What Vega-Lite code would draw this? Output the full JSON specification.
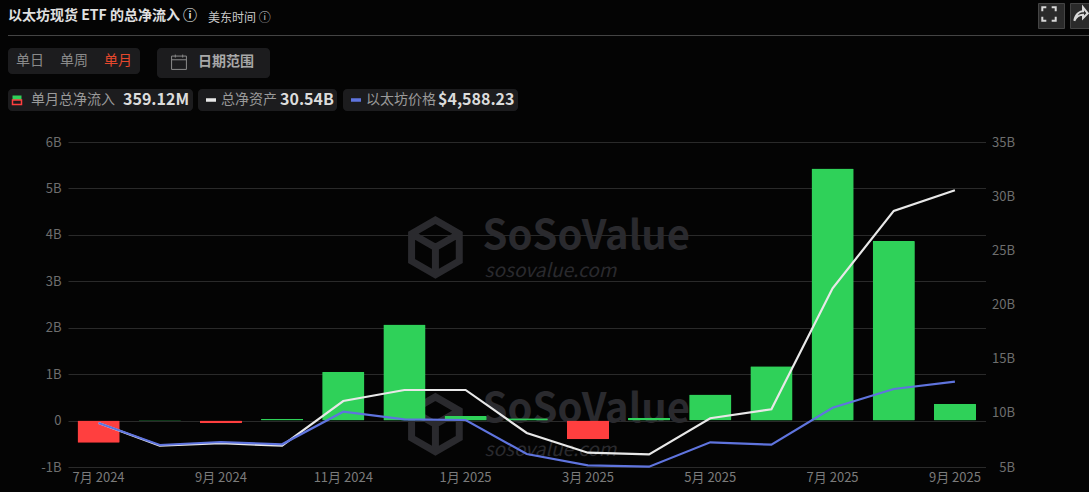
{"$schema":"https://vega.github.io/schema/vega-lite/v6.json","width":917.5,"height":325,"autosize":"none","padding":{"left":68,"top":142,"right":103.5,"bottom":25},"background":"#040404",
"title":{"text":"以太坊现货 ETF 的总净流入 ⓘ","anchor":"start","frame":"group","dx":-60,"offset":-20,"fontSize":14,"fontWeight":"bold","color":"#e0e0e0","font":"Noto Sans CJK SC"},
"config":{"font":"Noto Sans CJK SC","view":{"stroke":null},"legend":{"orient":"none","symbolOpacity":1,"labelFont":"Noto Sans CJK SC","titleFont":"Noto Sans CJK SC"}},
"data":{"values":[
{"month":"7月 2024","flow":-0.48,"dir":"流出","assets":9.06,"price":3228},
{"month":"8月 2024","flow":0.01,"dir":"流入","assets":6.97,"price":2504},
{"month":"9月 2024","flow":-0.06,"dir":"流出","assets":7.19,"price":2602},
{"month":"10月 2024","flow":0.04,"dir":"流入","assets":6.97,"price":2527},
{"month":"11月 2024","flow":1.05,"dir":"流入","assets":11.09,"price":3599},
{"month":"12月 2024","flow":2.07,"dir":"流入","assets":12.11,"price":3349},
{"month":"1月 2025","flow":0.1,"dir":"流入","assets":12.11,"price":3326},
{"month":"2月 2025","flow":0.05,"dir":"流入","assets":8.14,"price":2208},
{"month":"3月 2025","flow":-0.4,"dir":"流出","assets":6.32,"price":1836},
{"month":"4月 2025","flow":0.06,"dir":"流入","assets":6.17,"price":1790},
{"month":"5月 2025","flow":0.56,"dir":"流入","assets":9.5,"price":2593},
{"month":"6月 2025","flow":1.17,"dir":"流入","assets":10.33,"price":2514},
{"month":"7月 2025","flow":5.43,"dir":"流入","assets":21.5,"price":3731},
{"month":"8月 2025","flow":3.87,"dir":"流入","assets":28.64,"price":4346},
{"month":"9月 2025","flow":0.36,"dir":"流入","assets":30.54,"price":4588}]},
"resolve":{"scale":{"y":"independent","color":"independent"},"axis":{"y":"independent"},"legend":{"color":"independent"}},
"layer":[
{"data":{"values":[{"month":"12月 2024","level":3.73},{"month":"12月 2024","level":-0.08}]},"mark":{"type":"point","shape":"M0,-1 L0.87,-0.5 L0.87,0.5 L0,1 L-0.87,0.5 L-0.87,-0.5 Z M0,0 L0.87,-0.5 M0,0 L-0.87,-0.5 M0,0 L0,1","size":3000,"filled":false,"stroke":"#2a2a2e","strokeWidth":7,"opacity":1,"xOffset":31},"encoding":{
"x":{"field":"month","type":"nominal","scale":{"domain":["7月 2024","8月 2024","9月 2024","10月 2024","11月 2024","12月 2024","1月 2025","2月 2025","3月 2025","4月 2025","5月 2025","6月 2025","7月 2025","8月 2025","9月 2025"],"paddingInner":0.31,"paddingOuter":0.155},"title":null,"axis":{"orient":"bottom","values":["7月 2024","9月 2024","11月 2024","1月 2025","3月 2025","5月 2025","7月 2025","9月 2025"],"labelAngle":0,"labelColor":"#7b7b7b","labelFontSize":13,"domain":false,"ticks":false,"labelPadding":4,"labelFont":"Noto Sans CJK SC"}},
"y":{"field":"level","type":"quantitative","scale":{"domain":[-1,6]},"axis":null}}},
{"data":{"values":[{"month":"1月 2025","level":3.96,"t":"SoSoValue"},{"month":"1月 2025","level":0.22,"t":"SoSoValue"}]},"mark":{"type":"text","align":"left","baseline":"middle","dx":17,"fontSize":40,"fontWeight":"bold","color":"#2a2a2e"},"encoding":{
"x":{"field":"month","type":"nominal","title":null},
"y":{"field":"level","type":"quantitative","scale":{"domain":[-1,6]},"axis":null},
"text":{"field":"t"}}},
{"data":{"values":[{"month":"1月 2025","level":3.22,"t":"sosovalue.com"},{"month":"1月 2025","level":-0.64,"t":"sosovalue.com"}]},"mark":{"type":"text","align":"left","baseline":"middle","dx":19,"fontSize":19,"fontStyle":"italic","color":"#2a2a2e"},"encoding":{
"x":{"field":"month","type":"nominal","title":null},
"y":{"field":"level","type":"quantitative","scale":{"domain":[-1,6]},"axis":null},
"text":{"field":"t"}}},
{"mark":{"type":"bar","cornerRadius":1},"encoding":{
"x":{"field":"month","type":"nominal","title":null},
"y":{"field":"flow","type":"quantitative","scale":{"domain":[-1,6]},"title":null,"axis":{"orient":"left","values":[-1,0,1,2,3,4,5,6],"labelExpr":"datum.value==0?'0':datum.value+'B'","grid":true,"gridColor":"#2a2a2a","domain":false,"ticks":false,"labelColor":"#6e6e6e","labelFontSize":13,"labelPadding":7}},
"color":{"field":"dir","scale":{"domain":["流入","流出"],"range":["#2fd159","#ff3f3f"]},"legend":{"legendX":-60,"legendY":-53,"values":["流入"],"title":"⠀⠀单月总净流入","titleOrient":"left","titleFontSize":14,"titleFontWeight":"normal","titleColor":"#9a9a9a","titlePadding":0,"labelExpr":"'359.12M'","labelFontSize":16,"labelFontWeight":"bold","labelColor":"#dcdcdc","labelOffset":-8,"symbolType":"M-1,-1 L1,-1 L1,0 L-1,0 Z","symbolSize":81,"encoding":{"symbols":{"x":{"value":-98}}},"fillColor":"#1c1c1e","cornerRadius":4,"padding":3}}}},
{"data":{"values":[{"t":"流出"}]},"mark":{"type":"point","opacity":0},"encoding":{"color":{"field":"t","scale":{"range":["#ff3f3f"]},"legend":{"legendX":-60,"legendY":-53,"title":null,"labelExpr":"''","labelFontSize":16,"symbolType":"M-1,0 L1,0 L1,1 L-1,1 Z","symbolSize":81,"encoding":{"symbols":{"x":{"value":6}}},"padding":3}}}},
{"data":{"values":[{"v":0},{"v":1}]},"mark":{"type":"point","opacity":0},"encoding":{"color":{"field":"v","type":"quantitative","scale":{"range":["#444444","#444444"]},"legend":{"legendX":-60,"legendY":-107,"title":null,"direction":"horizontal","gradientLength":1081,"gradientThickness":1,"gradientOpacity":1,"labelOpacity":0,"labelFontSize":1,"padding":0}}}},
{"mark":{"type":"line","strokeWidth":2.2},"encoding":{
"x":{"field":"month","type":"nominal","title":null},
"y":{"field":"assets","type":"quantitative","scale":{"domain":[5,35]},"title":null,"axis":{"orient":"right","values":[5,10,15,20,25,30,35],"labelExpr":"datum.value+'B'","labelAlign":"right","labelPadding":29,"grid":false,"domain":false,"ticks":false,"labelColor":"#6e6e6e","labelFontSize":13}},
"color":{"datum":"总净资产","scale":{"range":["#e8e8e8"]},"legend":{"legendX":130,"legendY":-53,"title":"⠀⠀总净资产","titleOrient":"left","titleFontSize":14,"titleFontWeight":"normal","titleColor":"#9a9a9a","titlePadding":0,"labelExpr":"'30.54B'","labelFontSize":16,"labelFontWeight":"bold","labelColor":"#dcdcdc","labelOffset":-16,"symbolType":"M-1,0 L1,0","symbolSize":100,"symbolStrokeWidth":3.5,"encoding":{"symbols":{"x":{"value":-69}},"title":{"dx":{"value":-3}}},"fillColor":"#1c1c1e","cornerRadius":4,"padding":3}}}},
{"mark":{"type":"line","strokeWidth":2.2},"encoding":{
"x":{"field":"month","type":"nominal","title":null},
"y":{"field":"price","type":"quantitative","scale":{"domain":[1780,12473]},"axis":null},
"color":{"datum":"以太坊价格","scale":{"range":["#5f74de"]},"legend":{"legendX":275,"legendY":-53,"title":"⠀⠀以太坊价格","titleOrient":"left","titleFontSize":14,"titleFontWeight":"normal","titleColor":"#9a9a9a","titlePadding":0,"labelExpr":"'$4,588.23'","labelFontSize":16,"labelFontWeight":"bold","labelColor":"#dcdcdc","labelOffset":-18,"symbolType":"M-1,0 L1,0","symbolSize":100,"symbolStrokeWidth":3.5,"encoding":{"symbols":{"x":{"value":-84}},"title":{"dx":{"value":-4}}},"fillColor":"#1c1c1e","cornerRadius":4,"padding":3}}}},
{"data":{"values":[{"t":"单日"},{"t":"单周"},{"t":"单月"}]},"mark":{"type":"point","opacity":0},"encoding":{"color":{"field":"t","sort":null,"scale":{"range":["#000"]},"legend":{"legendX":-60,"legendY":-94,"title":null,"direction":"horizontal","columns":3,"symbolSize":0,"symbolStrokeWidth":0,"labelFontSize":14,"labelOffset":-12,"labelColor":"#8a8a8a","labelExpr":"datum.value=='单月'?'⠀⠀⠀':datum.label","fillColor":"#1c1c1e","cornerRadius":4,"padding":6,"columnPadding":14}}}},
{"data":{"values":[{"t":"单月"}]},"mark":{"type":"point","opacity":0},"encoding":{"color":{"field":"t","scale":{"range":["#000"]},"legend":{"legendX":28,"legendY":-94,"title":null,"symbolSize":0,"symbolStrokeWidth":0,"labelFontSize":14,"labelOffset":-12,"labelColor":"#e5482d","padding":6}}}},
{"data":{"values":[{"t":"日期范围"}]},"mark":{"type":"point","opacity":0},"encoding":{"color":{"field":"t","scale":{"range":["#8a8a8a"]},"legend":{"legendX":89,"legendY":-94,"title":null,"labelExpr":"'日期范围⠀'","symbolType":"M-1,-0.8 H1 V1 H-1 Z M-1,-0.3 H1 M-0.5,-1 V-0.6 M0.5,-1 V-0.6","symbolSize":220,"symbolStrokeWidth":1,"symbolFillColor":"transparent","labelFontSize":14,"labelFontWeight":"bold","labelColor":"#a8a8a8","labelOffset":19,"encoding":{"symbols":{"x":{"value":16}}},"fillColor":"#1c1c1e","cornerRadius":4,"padding":6}}}},
{"data":{"values":[{"t":"美东时间 ⓘ"}]},"mark":{"type":"point","opacity":0},"encoding":{"color":{"field":"t","scale":{"range":["#000"]},"legend":{"legendX":124,"legendY":-130,"title":null,"symbolSize":0,"symbolStrokeWidth":0,"labelFontSize":12,"labelColor":"#c8c8c8"}}}},
{"data":{"values":[{"t":"全屏"}]},"mark":{"type":"point","opacity":0},"encoding":{"color":{"field":"t","scale":{"range":["#d8d8d8"]},"legend":{"legendX":970,"legendY":-139,"title":null,"labelExpr":"''","symbolType":"M-1,-0.4 V-1 H-0.4 M0.4,-1 H1 V-0.4 M1,0.4 V1 H0.4 M-0.4,1 H-1 V0.4","symbolSize":180,"symbolStrokeWidth":2,"symbolFillColor":"transparent","fillColor":"#2a2a2a","strokeColor":"#444444","padding":3}}}},
{"data":{"values":[{"t":"分享"}]},"mark":{"type":"point","opacity":0},"encoding":{"color":{"field":"t","scale":{"range":["#d8d8d8"]},"legend":{"legendX":1002,"legendY":-139,"title":null,"labelExpr":"''","symbolType":"M-1,1 C-0.8,-0.2 0,-0.4 0.3,-0.4 V-1 L1,-0.1 L0.3,0.6 V0.1 C-0.2,0.1 -0.7,0.4 -1,1 Z","symbolSize":180,"symbolStrokeWidth":2,"symbolFillColor":"transparent","fillColor":"#2a2a2a","strokeColor":"#444444","padding":3}}}}
]}
